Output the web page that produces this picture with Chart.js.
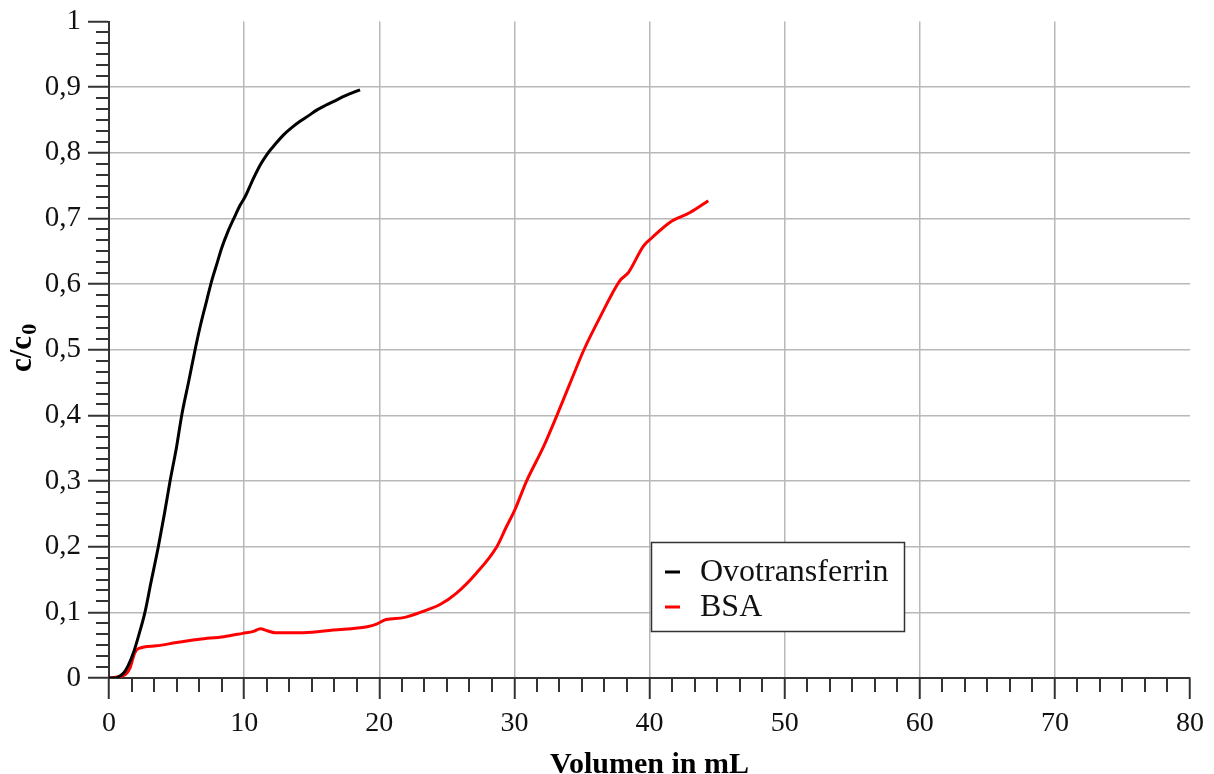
<!DOCTYPE html>
<html>
<head>
<meta charset="utf-8">
<title>Durchbruchskurven</title>
<script src="https://cdn.jsdelivr.net/npm/chart.js@4"></script>
<style>
  html, body { margin: 0; padding: 0; background: #fff; }
  #wrap { width: 1214px; height: 774px; position: relative; }
</style>
</head>
<body>
<div id="wrap"><canvas id="breakthrough"></canvas></div>
<script>
// Ovotransferrin breakthrough curve
const ovoVolume = [0, 0.5, 0.8, 1.1, 1.4, 1.8, 2.2, 2.66, 3.1, 3.65, 4.1, 4.52, 5.0, 5.38, 5.9, 6.37, 6.8, 7.23, 7.6, 8.0, 8.34, 8.8, 9.33, 9.7, 10.07, 10.6, 11.18, 11.67, 12.3, 12.9, 13.5, 14.14, 14.8, 15.37, 16.0, 16.6, 17.5, 18.58];
const ovoConc = [0, 0, 0.003, 0.008, 0.018, 0.038, 0.065, 0.1, 0.145, 0.2, 0.25, 0.3, 0.352, 0.4, 0.452, 0.5, 0.54, 0.575, 0.605, 0.632, 0.655, 0.68, 0.704, 0.72, 0.733, 0.757, 0.781, 0.797, 0.813, 0.827, 0.838, 0.848, 0.857, 0.865, 0.872, 0.878, 0.887, 0.896];

// BSA breakthrough curve
const bsaVolume = [0, 0.7, 1.2, 1.55, 1.9, 2.2, 3.5, 5.0, 6.7, 8.5, 9.9, 10.7, 11.2, 11.7, 12.3, 14.4, 16.6, 19.1, 19.8, 20.5, 21.8, 23.3, 24.5, 25.7, 27.2, 28.7, 29.4, 30.05, 30.9, 32.15, 33.15, 34.1, 35.15, 36.35, 37.8, 38.45, 39.55, 40.2, 41.5, 43.0, 44.35];
const bsaConc = [0, 0.002, 0.005, 0.015, 0.038, 0.045, 0.049, 0.054, 0.059, 0.063, 0.068, 0.071, 0.075, 0.072, 0.069, 0.069, 0.073, 0.078, 0.082, 0.089, 0.092, 0.102, 0.112, 0.129, 0.16, 0.2, 0.23, 0.257, 0.3, 0.352, 0.4, 0.448, 0.5, 0.55, 0.605, 0.618, 0.658, 0.671, 0.694, 0.709, 0.727];

const seriesNames = ['Ovotransferrin', 'BSA'];
const seriesColors = ['#000000', '#ff0000'];

const xMin = 0, xMax = 80, xStep = 10;
const yMin = 0, yMax = 1, yStep = 0.1;
const minorPerMajor = 6;

const FONT = "'Liberation Serif', 'Times New Roman', serif";
const AXIS = '#333333';
const GRID = '#b8b8b8';

function toPoints(xs, ys) {
    return xs.map((x, i) => ({ x: x, y: ys[i] }));
}

// y tick labels use a decimal comma: 0,1 0,2 ...
function commaLabel(v) {
    return String(Math.round(v * 10) / 10).replace('.', ',');
}

// minor tick marks between the labelled ones
const minorTicks = {
    id: 'minorTicks',
    afterDraw(chart) {
        const { ctx, chartArea, scales } = chart;
        ctx.save();
        ctx.strokeStyle = AXIS;
        ctx.lineWidth = 2;
        ctx.beginPath();
        const xn = (xMax - xMin) / xStep * minorPerMajor;
        for (let i = 0; i <= xn; i++) {
            if (i % minorPerMajor === 0) continue;
            const px = Math.round(scales.x.getPixelForValue(xMin + i * xStep / minorPerMajor));
            ctx.moveTo(px, chartArea.bottom);
            ctx.lineTo(px, chartArea.bottom + 14);
        }
        const yn = Math.round((yMax - yMin) / yStep) * minorPerMajor;
        for (let i = 0; i <= yn; i++) {
            if (i % minorPerMajor === 0) continue;
            const py = Math.round(scales.y.getPixelForValue(yMin + i * yStep / minorPerMajor));
            ctx.moveTo(chartArea.left - 13, py);
            ctx.lineTo(chartArea.left, py);
        }
        ctx.stroke();
        ctx.restore();
    }
};

// rotated y axis title with subscript zero
const yTitle = {
    id: 'yTitle',
    afterDraw(chart) {
        const { ctx } = chart;
        ctx.save();
        ctx.translate(31, 372);
        ctx.rotate(-Math.PI / 2);
        ctx.fillStyle = '#000';
        ctx.textBaseline = 'alphabetic';
        ctx.textAlign = 'left';
        ctx.font = 'bold 31px ' + FONT;
        ctx.fillText('c/c', 0, 0);
        const w = ctx.measureText('c/c').width;
        ctx.font = 'bold 22px ' + FONT;
        ctx.fillText('0', w + 1, 5);
        ctx.restore();
    }
};

// boxed legend inside the plot
const boxLegend = {
    id: 'boxLegend',
    afterDatasetsDraw(chart) {
        const { ctx } = chart;
        const left = 651, top = 542, w = 253, h = 89;
        ctx.save();
        ctx.fillStyle = '#fff';
        ctx.fillRect(left, top, w, h);
        ctx.strokeStyle = AXIS;
        ctx.lineWidth = 1.5;
        ctx.strokeRect(left + 0.5, top + 0.5, w, h);
        ctx.font = '32px ' + FONT;
        ctx.textBaseline = 'middle';
        ctx.textAlign = 'left';
        chart.data.datasets.forEach((ds, i) => {
            const cy = top + 30 + i * 35;
            ctx.strokeStyle = ds.borderColor;
            ctx.lineWidth = 3;
            ctx.beginPath();
            ctx.moveTo(left + 14, cy);
            ctx.lineTo(left + 29, cy);
            ctx.stroke();
            ctx.fillStyle = '#111';
            ctx.fillText(ds.label, left + 49, cy + 1);
        });
        ctx.restore();
    }
};

const ctx = document.getElementById('breakthrough').getContext('2d');
const chart = new Chart(ctx, {
    type: 'line',
    data: {
        datasets: [
            {
                label: seriesNames[0],
                data: toPoints(ovoVolume, ovoConc),
                borderColor: seriesColors[0],
                borderWidth: 3,
                pointRadius: 0,
                cubicInterpolationMode: 'monotone',
                fill: false
            },
            {
                label: seriesNames[1],
                data: toPoints(bsaVolume, bsaConc),
                borderColor: seriesColors[1],
                borderWidth: 3,
                pointRadius: 0,
                cubicInterpolationMode: 'monotone',
                fill: false
            }
        ]
    },
    options: {
        responsive: true,
        maintainAspectRatio: false,
        animation: false,
        layout: { padding: { top: 20, right: 24, left: 0, bottom: 0 } },
        plugins: {
            legend: { display: false },
            tooltip: { enabled: false }
        },
        scales: {
            x: {
                type: 'linear',
                min: xMin,
                max: xMax,
                afterFit: s => { s.height = 96; },
                ticks: {
                    stepSize: xStep,
                    color: '#111',
                    padding: 8,
                    maxRotation: 0,
                    font: { family: FONT, size: 28 }
                },
                grid: {
                    color: c => (c.tick && (c.tick.value === xMin || c.tick.value === xMax)) ? 'rgba(0,0,0,0)' : GRID,
                    lineWidth: 1.5,
                    tickLength: 21,
                    tickColor: AXIS,
                    tickWidth: 2
                },
                border: { color: AXIS, width: 2 },
                title: {
                    display: true,
                    text: 'Volumen in mL',
                    color: '#000',
                    padding: { top: 0, bottom: 0 },
                    font: { family: FONT, size: 30, weight: 'bold', lineHeight: 0.6 }
                }
            },
            y: {
                min: yMin,
                max: yMax,
                afterFit: s => { s.width = 109; },
                ticks: {
                    stepSize: yStep,
                    color: '#111',
                    padding: 7,
                    font: { family: FONT, size: 29, lineHeight: 1 },
                    callback: v => commaLabel(v)
                },
                grid: {
                    color: c => (c.tick && (Math.abs(c.tick.value - yMin) < 1e-6 || Math.abs(c.tick.value - yMax) < 1e-6)) ? 'rgba(0,0,0,0)' : GRID,
                    lineWidth: 1.5,
                    tickLength: 21,
                    tickColor: AXIS,
                    tickWidth: 2
                },
                border: { color: AXIS, width: 2 }
            }
        }
    },
    plugins: [minorTicks, yTitle, boxLegend]
});
</script>
</body>
</html>
